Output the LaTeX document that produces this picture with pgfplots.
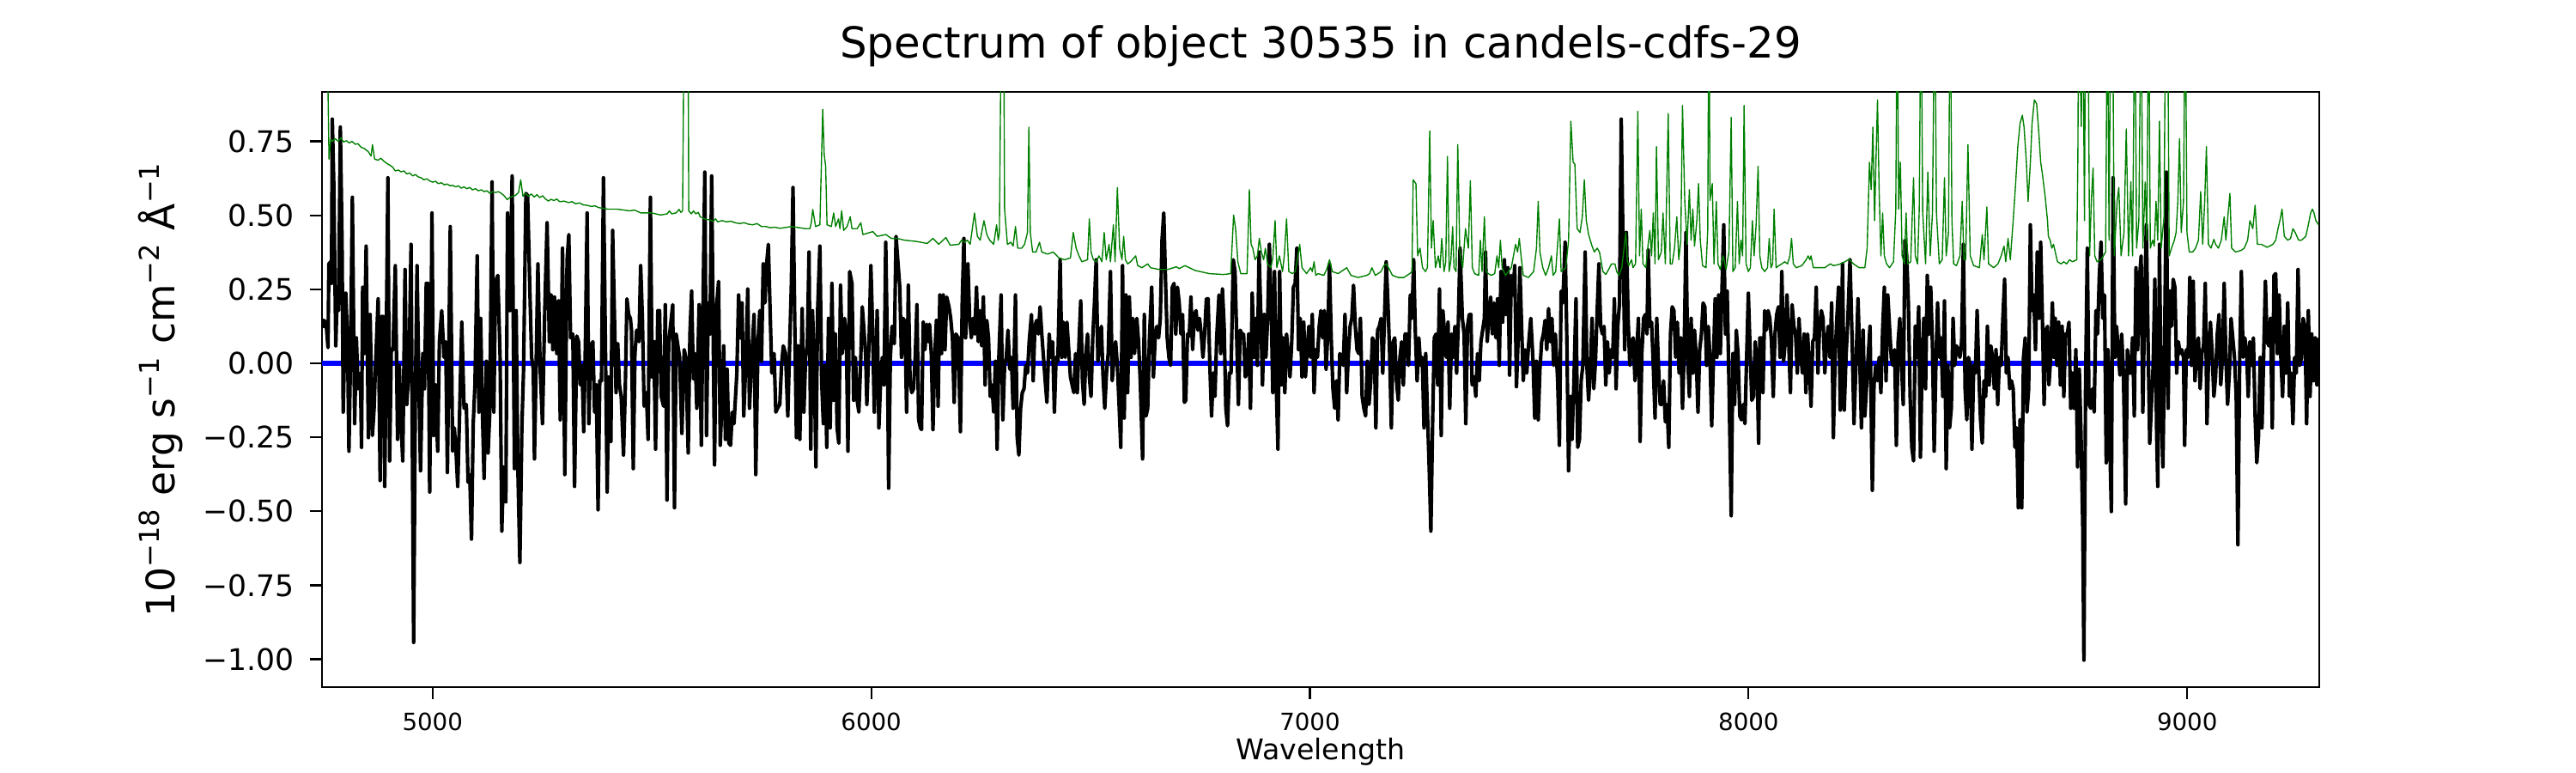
\documentclass[border=0pt]{standalone}
\usepackage{fontspec}
\setmainfont{DejaVu Sans}
\usepackage{pgfplots}
\usepackage{pgfplotstable}
\pgfplotsset{compat=1.18}
\definecolor{mplgreen}{rgb}{0,0.5,0}
\definecolor{mplblue}{rgb}{0,0,1}

\pgfplotstableread{
x y
4749.5 0.120
4752.0 0.145
4757.2 0.139
4761.7 0.053
4763.7 0.336
4767.6 0.343
4769.6 0.270
4771.5 0.825
4774.8 0.613
4779.4 0.059
4782.0 0.204
4785.9 0.178
4789.8 0.798
4793.7 0.416
4796.3 -0.165
4802.2 0.237
4806.1 0.086
4809.4 -0.297
4813.3 0.046
4817.2 0.561
4822.4 -0.204
4826.4 0.086
4830.3 -0.086
4835.5 -0.033
4838.1 -0.284
4840.7 0.257
4844.6 0.033
4848.6 0.396
4853.8 -0.251
4857.7 0.165
4862.9 -0.244
4866.8 -0.152
4869.4 -0.033
4876.0 0.218
4880.5 -0.396
4883.8 0.158
4887.7 0.158
4891.0 -0.416
4894.2 0.020
4898.2 0.627
4902.1 -0.330
4906.0 0.046
4909.9 0.046
4915.1 0.330
4920.3 -0.257
4924.3 -0.007
4928.2 -0.204
4932.1 -0.330
4937.3 0.317
4941.2 -0.139
4946.5 -0.007
4951.0 0.402
4956.9 -0.943
4960.8 -0.112
4964.7 0.330
4968.6 -0.059
4972.6 -0.363
4977.8 0.033
4981.7 -0.086
4985.6 0.270
4989.5 0.270
4993.5 -0.435
4998.7 0.508
5002.6 -0.244
5006.5 -0.073
5011.7 -0.297
5015.6 0.073
5020.9 0.178
5026.1 0.020
5030.0 0.073
5033.9 -0.369
5040.4 0.462
5045.7 -0.297
5049.6 -0.218
5053.5 -0.297
5057.4 -0.416
5061.3 -0.191
5066.6 0.139
5071.8 -0.152
5077.0 -0.139
5080.9 -0.402
5084.8 -0.376
5088.8 -0.594
5092.7 -0.204
5096.6 -0.073
5101.8 0.363
5105.7 -0.165
5109.6 0.152
5113.5 -0.152
5117.5 -0.389
5122.7 0.007
5126.6 -0.303
5130.5 -0.165
5135.7 0.613
5139.7 -0.165
5143.6 0.277
5148.8 0.297
5154.0 0.020
5157.9 -0.567
5161.9 -0.350
5167.1 -0.468
5171.0 0.508
5176.2 0.178
5181.4 0.633
5186.7 -0.356
5190.6 0.178
5194.5 -0.356
5199.1 -0.673
5203.6 -0.218
5207.5 -0.020
5212.8 0.574
5216.7 0.567
5221.9 0.244
5225.8 0.020
5229.7 -0.020
5232.3 -0.323
5240.2 0.336
5245.4 -0.020
5250.6 -0.204
5255.8 0.178
5261.1 0.475
5266.3 0.073
5270.2 0.231
5274.1 0.046
5278.0 0.224
5283.2 0.033
5287.2 0.211
5291.1 -0.191
5296.3 0.389
5301.5 -0.376
5306.7 0.350
5310.7 0.435
5314.6 0.086
5319.8 0.099
5323.7 -0.416
5328.9 0.092
5332.9 0.073
5336.8 -0.073
5340.7 -0.007
5344.6 -0.231
5348.5 0.073
5352.4 0.508
5356.4 -0.204
5360.3 0.059
5365.5 0.073
5369.4 -0.165
5373.3 -0.073
5377.3 -0.495
5381.2 -0.059
5385.1 -0.059
5389.6 0.627
5394.2 0.046
5398.1 -0.435
5402.0 -0.046
5406.6 -0.264
5410.5 0.449
5414.4 0.178
5418.3 -0.099
5422.2 0.066
5426.1 -0.073
5430.1 -0.112
5435.3 -0.310
5439.2 -0.099
5443.1 0.218
5447.0 0.165
5451.0 0.152
5453.5 0.112
5457.5 -0.356
5461.4 0.033
5465.3 0.112
5470.5 0.073
5474.4 0.330
5478.4 0.152
5482.3 -0.145
5487.5 -0.099
5491.4 -0.257
5496.6 0.561
5500.5 -0.046
5504.5 0.073
5508.4 -0.290
5513.6 0.178
5517.5 0.178
5521.4 -0.112
5526.7 -0.145
5530.6 0.198
5534.5 -0.462
5538.4 0.073
5542.3 0.125
5547.5 0.198
5551.5 -0.488
5555.4 0.099
5559.3 0.059
5563.2 0.020
5568.4 -0.237
5573.6 0.046
5577.6 0.020
5582.8 -0.303
5586.7 0.099
5590.6 0.244
5594.5 -0.053
5598.4 0.033
5602.4 -0.152
5607.6 0.198
5612.8 -0.277
5616.7 0.204
5620.6 0.646
5624.6 -0.244
5628.5 0.204
5632.4 0.099
5636.3 0.633
5640.2 0.033
5642.8 -0.343
5646.8 0.178
5652.0 0.277
5655.9 -0.277
5659.8 -0.125
5663.7 0.059
5667.6 -0.257
5671.5 -0.020
5675.5 -0.270
5679.4 -0.277
5683.3 -0.165
5687.2 -0.204
5693.7 -0.033
5697.7 0.231
5701.6 0.086
5705.5 0.204
5709.4 -0.178
5714.6 0.020
5718.5 0.251
5722.5 -0.152
5727.7 0.020
5732.9 0.165
5736.8 -0.376
5742.0 0.073
5746.0 0.178
5749.9 0.007
5753.8 0.336
5757.7 0.204
5761.6 0.336
5765.5 0.402
5769.5 0.178
5773.4 -0.033
5778.6 0.033
5782.5 -0.165
5786.4 -0.152
5791.6 -0.139
5795.6 -0.007
5799.5 0.059
5804.7 0.033
5809.9 -0.178
5813.8 0.046
5817.8 0.257
5821.7 0.594
5825.6 0.152
5829.5 -0.251
5833.4 0.059
5837.3 -0.257
5842.6 0.185
5846.5 -0.165
5850.4 0.020
5854.3 0.059
5858.2 0.376
5862.1 -0.290
5866.1 0.178
5870.0 0.020
5873.9 -0.350
5877.8 0.178
5883.0 0.396
5887.0 -0.059
5890.9 -0.204
5894.8 -0.007
5898.7 -0.284
5902.6 0.152
5906.5 -0.218
5910.4 0.270
5914.4 -0.125
5918.3 0.099
5922.2 -0.218
5926.1 -0.270
5930.0 0.264
5933.9 0.033
5939.2 0.152
5943.1 0.099
5947.0 -0.297
5950.9 0.310
5956.1 0.270
5960.0 -0.125
5964.0 0.020
5967.9 -0.125
5971.8 -0.165
5975.7 -0.007
5979.6 0.191
5983.5 0.112
5987.5 0.020
5990.1 -0.139
5995.3 0.086
5999.2 0.330
6003.1 0.125
6007.0 -0.165
6011.0 0.020
6013.6 0.178
6017.5 -0.218
6021.4 -0.059
6025.3 0.020
6029.2 -0.073
6033.1 0.409
6037.1 0.020
6039.7 -0.422
6043.6 0.020
6047.5 0.125
6052.7 0.066
6056.6 0.429
6065.1 0.257
6069.0 0.020
6072.9 0.152
6076.8 0.139
6080.7 -0.165
6084.6 0.264
6088.6 -0.059
6092.5 -0.099
6096.4 -0.086
6100.3 0.020
6104.2 0.198
6108.1 -0.191
6112.1 -0.218
6114.7 -0.224
6118.6 0.139
6122.5 0.046
6126.4 0.132
6130.3 0.073
6133.0 0.132
6136.9 0.033
6140.8 -0.224
6144.7 0.020
6148.6 0.145
6152.5 -0.145
6156.4 0.231
6160.4 0.033
6164.3 0.231
6168.2 0.046
6172.1 0.224
6177.3 0.191
6181.2 0.152
6185.2 0.086
6189.1 -0.132
6193.0 0.099
6198.2 0.086
6203.4 -0.231
6207.4 0.204
6211.3 0.422
6215.2 0.086
6220.4 0.336
6224.3 0.152
6228.2 0.086
6232.2 0.152
6236.1 0.099
6240.0 0.257
6243.9 0.073
6247.8 0.178
6251.7 0.059
6255.7 0.224
6259.6 -0.073
6263.5 0.145
6267.4 0.086
6271.3 -0.112
6275.2 -0.073
6279.2 -0.165
6283.1 0.007
6287.0 -0.290
6290.9 0.020
6296.1 0.231
6300.0 -0.191
6304.0 -0.007
6307.9 0.020
6311.8 0.112
6315.7 -0.020
6319.6 0.020
6323.5 -0.152
6328.8 0.231
6332.7 -0.251
6336.6 -0.310
6340.5 -0.152
6344.4 -0.099
6348.3 -0.086
6352.3 -0.007
6356.2 -0.033
6360.1 0.073
6365.3 0.165
6369.2 -0.059
6373.1 0.125
6377.1 0.145
6381.0 0.099
6384.9 0.191
6388.8 0.099
6392.7 0.020
6396.6 -0.059
6400.5 -0.132
6405.8 0.099
6409.7 0.020
6413.6 0.073
6417.5 -0.165
6421.4 0.020
6425.4 0.007
6430.6 0.350
6434.5 0.020
6438.4 0.139
6442.3 0.020
6446.2 0.139
6450.2 0.046
6454.1 -0.046
6458.0 -0.073
6461.9 -0.099
6465.8 0.033
6469.7 -0.099
6473.7 0.073
6477.6 0.211
6481.5 -0.059
6485.4 -0.139
6489.3 0.033
6493.2 0.099
6497.2 -0.046
6501.1 -0.112
6505.0 0.086
6508.9 0.204
6512.8 0.350
6516.7 0.007
6520.6 0.073
6524.6 0.125
6528.5 -0.046
6532.4 -0.152
6536.3 -0.033
6540.2 0.033
6545.4 0.310
6549.4 -0.059
6553.3 0.020
6557.2 0.073
6561.1 -0.007
6565.0 -0.139
6568.9 -0.284
6572.9 0.330
6576.8 -0.185
6580.7 0.231
6584.6 -0.099
6588.5 0.224
6592.4 0.020
6596.4 0.152
6600.3 0.033
6605.5 0.152
6609.4 0.073
6613.3 -0.059
6618.6 -0.323
6622.5 0.165
6626.4 -0.178
6630.3 -0.152
6634.2 0.086
6639.4 0.257
6643.4 -0.046
6647.3 0.086
6651.2 0.125
6655.1 0.086
6659.0 0.152
6662.9 0.416
6666.9 0.508
6670.8 0.284
6674.7 0.086
6678.6 0.020
6682.5 -0.007
6686.4 0.257
6690.4 0.270
6694.3 0.099
6698.2 0.257
6702.1 0.204
6706.0 0.099
6709.9 0.165
6713.9 -0.132
6717.1 -0.125
6721.0 0.099
6724.9 0.092
6728.8 0.224
6732.7 0.046
6736.6 0.165
6740.5 0.178
6744.5 0.112
6748.4 0.152
6752.3 0.099
6756.2 0.020
6760.1 0.099
6764.0 0.218
6768.0 0.218
6771.9 -0.007
6775.8 -0.178
6779.7 -0.033
6783.6 -0.112
6787.5 0.086
6792.8 0.231
6796.7 0.033
6800.6 0.251
6804.5 0.125
6808.4 -0.152
6812.3 -0.211
6816.3 -0.033
6820.2 -0.033
6825.4 0.350
6829.3 0.310
6833.2 0.086
6837.1 -0.139
6841.1 0.112
6845.0 0.099
6848.9 0.099
6852.8 -0.046
6856.7 -0.033
6860.6 0.099
6864.6 -0.152
6868.5 0.237
6872.4 0.020
6876.3 0.152
6880.2 -0.007
6884.1 0.376
6888.1 0.165
6892.0 -0.073
6895.9 0.165
6899.8 0.020
6903.7 0.152
6907.6 0.402
6911.6 0.204
6915.5 -0.099
6919.4 0.310
6923.3 -0.073
6927.2 -0.290
6931.1 0.310
6935.1 -0.073
6939.0 0.086
6942.9 -0.099
6946.8 0.099
6950.7 0.033
6954.6 -0.046
6958.6 0.073
6962.5 0.257
6966.4 0.270
6970.3 0.389
6974.2 0.046
6978.1 0.152
6982.0 -0.046
6986.0 0.139
6989.9 -0.046
6993.8 0.046
6997.7 0.125
7001.6 0.020
7005.5 0.165
7009.5 -0.099
7013.4 0.046
7017.3 0.020
7021.2 0.125
7025.1 0.178
7029.0 0.086
7033.0 0.178
7036.9 -0.020
7040.8 0.099
7044.7 0.336
7048.6 0.086
7052.5 -0.086
7056.5 -0.152
7060.4 -0.059
7064.3 -0.191
7068.2 0.033
7072.1 0.020
7076.0 -0.007
7080.0 0.165
7083.9 -0.099
7087.8 0.033
7091.7 0.125
7095.6 0.152
7099.5 0.264
7103.5 0.125
7107.4 0.046
7111.3 0.033
7115.2 0.152
7119.1 -0.112
7123.0 -0.152
7127.0 -0.178
7130.9 0.007
7134.8 -0.139
7138.7 -0.059
7142.6 0.086
7146.5 0.073
7150.4 -0.218
7154.4 0.112
7158.3 0.125
7162.2 0.152
7166.1 -0.033
7170.0 0.152
7173.9 0.343
7177.9 0.204
7181.8 0.033
7185.7 -0.218
7189.6 0.073
7193.5 0.086
7197.4 -0.059
7201.4 -0.125
7205.3 0.020
7209.2 0.073
7213.1 -0.073
7217.0 0.099
7220.9 0.099
7224.9 -0.007
7228.8 0.231
7232.7 0.152
7236.6 0.350
7240.5 0.099
7244.4 -0.059
7248.4 0.086
7252.3 -0.007
7256.2 0.020
7260.1 -0.218
7264.0 0.033
7267.9 -0.165
7271.9 -0.350
7275.8 -0.567
7279.7 -0.204
7283.6 0.086
7287.5 0.099
7291.4 -0.073
7295.4 0.251
7299.3 -0.244
7303.2 0.178
7307.1 0.099
7311.0 0.020
7314.9 0.139
7318.8 -0.152
7322.8 0.099
7326.7 0.020
7330.6 0.125
7334.5 -0.033
7338.4 0.139
7342.3 0.389
7347.6 0.152
7351.5 0.099
7355.4 -0.204
7359.3 0.125
7363.2 0.165
7367.1 0.165
7369.7 -0.073
7374.3 -0.046
7378.2 -0.112
7382.1 0.033
7386.0 -0.059
7389.9 0.073
7393.8 0.112
7397.8 0.152
7400.4 0.376
7404.3 0.073
7408.2 0.165
7412.1 0.224
7416.0 0.099
7419.9 0.204
7423.9 0.086
7427.8 0.218
7431.7 -0.007
7435.6 0.310
7439.5 0.139
7443.4 0.350
7447.4 0.165
7451.3 0.323
7455.2 -0.040
7459.1 0.297
7463.0 0.231
7466.9 0.330
7470.9 -0.079
7474.8 0.086
7478.7 0.323
7482.6 0.125
7486.5 -0.059
7490.4 0.046
7494.4 -0.033
7498.3 0.059
7503.5 0.152
7508.7 0.007
7512.6 -0.185
7516.5 0.007
7520.5 -0.191
7524.4 -0.020
7528.3 0.073
7532.2 0.099
7536.1 0.145
7540.0 0.046
7544.0 0.185
7547.9 0.073
7551.8 0.152
7555.7 -0.007
7559.6 0.099
7564.8 -0.059
7568.8 -0.277
7572.7 0.244
7576.6 0.204
7581.8 0.409
7585.7 0.086
7589.7 -0.363
7593.6 -0.112
7597.5 -0.257
7601.4 -0.086
7606.6 0.218
7610.5 -0.284
7614.5 -0.257
7618.4 -0.059
7622.3 -0.007
7627.5 0.376
7631.4 -0.007
7635.3 -0.125
7639.3 -0.020
7643.2 0.152
7647.1 -0.086
7651.0 0.007
7654.9 0.178
7658.8 0.336
7662.8 0.125
7666.7 0.099
7670.6 0.125
7674.5 -0.073
7678.4 0.073
7682.3 -0.033
7686.3 0.046
7690.2 0.020
7694.1 0.218
7698.0 -0.086
7701.9 0.125
7705.8 0.204
7709.7 0.825
7713.7 0.416
7717.6 0.046
7721.5 0.442
7725.4 0.152
7729.3 -0.007
7733.2 0.073
7737.2 0.086
7741.1 -0.059
7745.0 0.033
7748.9 0.152
7752.8 -0.264
7756.7 0.033
7760.7 0.152
7764.6 0.165
7768.5 0.099
7771.1 0.383
7775.0 0.125
7778.9 0.139
7782.8 -0.007
7786.8 -0.185
7790.7 0.152
7794.6 -0.007
7798.5 -0.139
7802.4 -0.139
7806.3 -0.059
7810.3 -0.198
7814.2 -0.139
7818.1 -0.284
7822.0 0.099
7825.9 0.191
7829.8 0.178
7833.8 0.020
7837.7 0.139
7841.6 -0.033
7845.5 0.086
7849.4 -0.152
7853.3 0.046
7857.3 0.442
7861.2 0.020
7865.1 -0.112
7869.0 0.152
7872.9 -0.033
7876.8 0.112
7880.7 0.020
7884.7 -0.165
7888.6 0.046
7892.5 0.099
7896.4 0.204
7900.3 0.191
7904.2 -0.007
7908.2 0.125
7912.1 0.020
7916.0 -0.211
7919.9 0.007
7923.8 0.218
7927.7 0.020
7931.7 0.231
7935.6 0.033
7939.5 0.257
7943.4 0.468
7947.3 0.099
7951.2 0.244
7955.2 -0.059
7960.4 -0.515
7964.3 0.033
7968.2 -0.139
7972.1 0.112
7976.0 0.033
7980.0 -0.178
7983.9 -0.191
7987.8 -0.139
7991.7 -0.204
7995.6 0.020
7999.5 0.237
8003.5 0.046
8007.4 -0.125
8011.3 -0.112
8015.2 0.073
8019.1 0.007
8023.0 -0.270
8025.6 0.086
8028.9 0.086
8032.8 -0.099
8036.7 0.178
8040.6 0.112
8044.5 0.178
8048.4 0.152
8052.3 0.073
8056.3 -0.112
8060.2 0.099
8064.1 0.165
8068.0 0.191
8071.9 0.020
8075.8 0.310
8079.8 0.007
8083.7 0.073
8087.6 0.231
8091.5 0.073
8095.4 -0.099
8099.3 0.198
8103.3 0.125
8107.2 0.099
8111.1 -0.033
8115.0 0.152
8118.9 0.033
8122.8 -0.033
8126.8 0.099
8130.7 -0.099
8134.6 0.099
8138.5 -0.007
8142.4 -0.145
8146.3 0.073
8150.3 0.086
8154.2 0.257
8158.1 -0.033
8162.0 0.125
8165.9 0.178
8169.8 0.152
8173.8 -0.033
8177.7 0.073
8181.6 0.125
8185.5 0.020
8189.4 0.204
8193.3 -0.251
8197.3 0.020
8201.2 0.152
8205.1 0.257
8209.0 -0.158
8214.2 0.336
8218.1 -0.158
8222.1 0.020
8226.0 0.139
8231.2 0.350
8236.4 0.059
8240.3 -0.204
8245.6 0.033
8249.5 0.218
8253.4 0.020
8257.3 -0.218
8261.2 0.112
8265.1 -0.178
8269.1 -0.073
8273.0 0.033
8276.9 0.125
8282.1 -0.429
8286.0 -0.073
8289.9 -0.007
8293.9 -0.059
8297.8 0.020
8301.7 -0.099
8305.6 0.112
8309.5 0.257
8313.4 -0.059
8317.4 0.231
8321.3 0.125
8325.2 0.020
8329.1 -0.007
8333.0 0.046
8336.9 -0.277
8340.9 0.073
8344.8 0.152
8348.7 -0.007
8352.6 -0.139
8356.5 0.416
8360.4 0.363
8364.3 0.204
8368.3 -0.112
8372.2 -0.284
8376.1 -0.330
8380.0 0.125
8383.9 0.020
8387.8 0.191
8391.8 -0.317
8395.7 0.020
8399.6 0.152
8403.5 -0.086
8407.4 0.297
8411.3 0.099
8415.3 0.257
8419.2 0.059
8423.1 -0.297
8427.0 -0.007
8430.9 0.204
8434.8 0.020
8438.8 0.086
8442.7 -0.112
8446.6 0.211
8450.5 -0.356
8454.4 -0.007
8458.3 -0.218
8462.2 -0.152
8466.2 0.152
8470.1 -0.007
8474.0 0.059
8477.9 0.046
8481.8 0.020
8485.7 0.073
8489.7 0.402
8493.6 -0.086
8497.5 -0.191
8501.4 0.020
8505.3 -0.007
8509.2 -0.290
8513.2 -0.007
8517.1 -0.033
8521.0 0.178
8524.9 -0.033
8528.8 -0.191
8532.7 -0.270
8536.7 -0.059
8540.6 -0.112
8544.5 0.125
8548.4 -0.073
8552.3 0.059
8556.2 0.020
8560.2 -0.086
8564.1 0.046
8568.0 -0.139
8571.9 0.020
8575.8 -0.007
8579.7 0.152
8583.7 0.284
8587.6 -0.033
8591.5 0.020
8595.4 -0.086
8599.3 -0.059
8603.2 -0.086
8607.2 -0.284
8611.1 -0.218
8615.0 -0.488
8618.9 -0.191
8622.8 -0.488
8626.7 0.020
8630.6 0.086
8634.6 -0.165
8638.5 -0.086
8642.4 0.468
8646.3 0.178
8650.2 0.231
8654.1 0.046
8658.1 0.376
8662.0 0.152
8665.9 0.409
8669.8 0.152
8673.7 -0.139
8677.6 0.112
8681.5 0.125
8684.7 -0.073
8688.7 0.020
8692.6 0.204
8696.5 0.020
8699.1 0.152
8703.0 -0.007
8706.9 0.139
8710.9 -0.073
8714.8 0.125
8718.7 -0.112
8722.6 0.099
8726.5 0.099
8730.4 0.139
8734.4 -0.152
8738.3 -0.033
8742.2 -0.152
8746.1 0.046
8750.0 -0.350
8753.9 -0.020
8757.9 -0.244
8761.8 -0.547
8764.4 -1.003
8768.3 -0.059
8772.2 0.389
8776.1 -0.139
8780.0 -0.152
8784.0 -0.086
8787.9 -0.165
8791.8 0.178
8795.7 0.099
8799.6 0.297
8803.5 0.409
8807.5 0.152
8811.4 0.231
8815.3 -0.336
8819.2 0.046
8823.1 -0.244
8827.0 -0.501
8831.0 0.627
8834.9 0.020
8838.8 0.125
8842.7 0.046
8846.6 -0.040
8850.5 0.099
8854.5 -0.033
8859.7 -0.475
8863.6 0.046
8867.5 -0.033
8871.4 -0.033
8875.3 0.086
8879.3 -0.178
8883.2 0.323
8887.1 0.046
8891.0 0.284
8894.9 0.363
8898.8 -0.165
8902.8 0.191
8906.7 0.468
8910.6 0.086
8914.5 -0.270
8918.4 -0.139
8922.3 -0.007
8926.2 0.284
8930.2 -0.231
8932.8 -0.416
8936.7 0.402
8940.6 -0.139
8944.5 -0.350
8948.4 0.073
8952.4 0.646
8956.3 -0.152
8960.2 0.244
8964.1 0.125
8968.0 0.284
8971.9 0.257
8975.9 -0.033
8979.8 0.073
8983.7 0.033
8987.6 0.046
8991.5 0.020
8994.1 -0.277
8998.0 0.046
9002.0 0.020
9005.9 0.290
9009.8 -0.007
9013.7 0.277
9017.6 -0.059
9021.5 0.046
9025.5 0.086
9029.4 -0.086
9033.3 0.033
9037.2 0.059
9041.1 0.270
9045.0 -0.204
9049.0 0.046
9052.9 0.139
9056.8 0.033
9060.7 -0.112
9064.6 -0.046
9068.5 0.099
9072.5 0.165
9076.4 -0.073
9080.3 0.020
9084.2 0.270
9088.1 0.020
9092.0 -0.139
9096.0 -0.033
9099.9 0.152
9103.8 0.086
9107.7 0.020
9111.6 -0.112
9115.5 -0.613
9119.4 -0.007
9123.4 0.310
9127.3 0.020
9131.2 0.086
9135.1 0.046
9139.0 -0.112
9142.9 0.073
9146.9 -0.007
9150.8 0.086
9154.7 -0.178
9158.6 -0.336
9162.5 -0.244
9166.4 0.020
9170.4 -0.218
9174.3 0.033
9178.2 0.277
9182.1 0.073
9186.0 0.059
9189.9 0.152
9193.9 -0.218
9197.8 0.297
9201.7 0.303
9205.6 0.033
9209.5 0.231
9213.4 0.020
9217.4 -0.112
9221.3 0.125
9225.2 -0.033
9229.1 0.204
9233.0 -0.112
9236.9 -0.033
9240.9 -0.204
9244.8 0.020
9248.7 -0.033
9252.6 0.317
9256.5 -0.007
9260.4 0.020
9264.3 0.152
9268.3 0.125
9272.2 -0.204
9276.1 0.178
9280.0 -0.112
9283.9 0.099
9287.8 -0.059
9291.8 0.086
9295.7 -0.073
9299.6 0.086
}\fluxdata

\pgfplotstableread{
x y
4749.5 1.300
4758.0 1.300
4764.0 0.690
4768.0 0.757
4772.0 0.750
4778.0 0.759
4785.0 0.750
4791.0 0.762
4797.0 0.748
4804.0 0.752
4810.0 0.744
4816.0 0.750
4824.0 0.740
4830.0 0.742
4837.0 0.730
4844.0 0.726
4853.0 0.716
4860.0 0.700
4863.0 0.739
4868.0 0.690
4876.0 0.686
4882.0 0.693
4889.0 0.683
4895.0 0.676
4902.0 0.670
4909.0 0.663
4915.0 0.650
4922.0 0.653
4928.0 0.647
4935.0 0.650
4941.0 0.640
4948.0 0.643
4955.0 0.633
4961.0 0.638
4967.0 0.630
4974.0 0.627
4980.0 0.620
4987.0 0.623
4994.0 0.616
5000.0 0.612
5007.0 0.615
5013.0 0.607
5020.0 0.610
5027.0 0.603
5033.0 0.606
5040.0 0.600
5046.0 0.601
5053.0 0.596
5059.0 0.600
5065.0 0.592
5072.0 0.596
5078.0 0.590
5085.0 0.594
5091.0 0.586
5098.0 0.590
5104.0 0.583
5111.0 0.586
5118.0 0.580
5124.0 0.583
5131.0 0.574
5137.0 0.580
5144.0 0.577
5150.0 0.580
5157.0 0.574
5164.0 0.565
5170.0 0.553
5176.0 0.560
5183.0 0.565
5189.0 0.567
5196.0 0.577
5201.0 0.620
5206.0 0.565
5212.0 0.574
5219.0 0.565
5225.0 0.572
5232.0 0.562
5238.0 0.570
5244.0 0.560
5251.0 0.566
5257.0 0.556
5264.0 0.548
5270.0 0.554
5277.0 0.550
5283.0 0.555
5290.0 0.546
5300.0 0.548
5310.0 0.543
5318.0 0.546
5326.0 0.539
5335.0 0.542
5344.0 0.535
5352.0 0.534
5362.0 0.530
5370.0 0.532
5379.0 0.526
5388.0 0.524
5398.0 0.521
5420.0 0.521
5450.0 0.515
5460.0 0.518
5475.0 0.508
5500.0 0.508
5520.0 0.501
5535.0 0.505
5540.0 0.515
5545.0 0.505
5555.0 0.508
5562.0 0.520
5566.0 0.510
5570.0 0.515
5572.0 0.900
5574.0 1.400
5582.0 1.400
5584.0 0.515
5590.0 0.505
5595.0 0.515
5600.0 0.505
5606.0 0.510
5610.0 0.495
5620.0 0.488
5630.0 0.485
5640.0 0.480
5645.0 0.488
5650.0 0.478
5660.0 0.482
5670.0 0.478
5680.0 0.480
5690.0 0.475
5700.0 0.472
5710.0 0.475
5720.0 0.470
5730.0 0.468
5740.0 0.472
5750.0 0.462
5760.0 0.462
5770.0 0.458
5780.0 0.460
5791.6 0.456
5817.8 0.462
5850.4 0.455
5860.2 0.455
5863.4 0.475
5866.7 0.520
5873.2 0.462
5883.0 0.468
5889.5 0.858
5892.8 0.706
5896.1 0.666
5899.3 0.468
5909.1 0.462
5914.4 0.508
5918.9 0.462
5925.4 0.488
5928.7 0.455
5932.6 0.515
5937.2 0.449
5945.0 0.462
5952.2 0.495
5956.1 0.455
5967.9 0.455
5976.3 0.475
5981.0 0.435
6003.8 0.445
6013.6 0.429
6033.1 0.435
6046.2 0.422
6059.3 0.422
6075.5 0.416
6101.6 0.412
6127.7 0.405
6140.8 0.422
6153.8 0.402
6170.2 0.425
6180.0 0.399
6199.5 0.402
6206.1 0.416
6212.6 0.409
6219.1 0.416
6225.6 0.402
6235.4 0.508
6242.0 0.429
6248.5 0.416
6257.0 0.482
6263.5 0.435
6270.0 0.416
6274.6 0.409
6279.2 0.402
6285.7 0.468
6289.6 0.416
6292.2 0.442
6294.8 0.900
6296.8 1.400
6301.3 1.400
6304.0 0.521
6310.5 0.402
6318.3 0.409
6323.5 0.396
6328.8 0.462
6334.0 0.389
6343.1 0.389
6349.6 0.402
6356.2 0.442
6359.4 0.798
6362.7 0.442
6367.9 0.376
6375.8 0.376
6383.6 0.409
6388.8 0.376
6401.9 0.369
6414.9 0.376
6428.0 0.356
6441.0 0.350
6454.1 0.356
6460.6 0.442
6467.1 0.389
6473.7 0.363
6480.2 0.343
6493.2 0.350
6497.2 0.488
6501.1 0.376
6506.3 0.350
6512.8 0.343
6519.3 0.363
6525.9 0.343
6531.1 0.442
6535.7 0.350
6542.2 0.402
6545.4 0.343
6552.0 0.468
6555.9 0.343
6561.1 0.594
6566.3 0.389
6571.6 0.350
6575.5 0.429
6579.4 0.350
6584.6 0.336
6591.2 0.343
6602.9 0.363
6607.5 0.330
6617.2 0.323
6630.3 0.336
6636.8 0.323
6656.4 0.317
6676.0 0.317
6695.6 0.326
6702.1 0.320
6715.2 0.330
6737.9 0.314
6770.6 0.303
6803.2 0.300
6819.5 0.303
6826.1 0.501
6830.6 0.455
6835.8 0.343
6842.4 0.303
6856.7 0.303
6862.0 0.587
6865.9 0.402
6869.8 0.389
6875.0 0.350
6880.2 0.363
6884.8 0.422
6889.4 0.376
6894.6 0.350
6898.5 0.389
6903.7 0.336
6910.9 0.323
6915.5 0.356
6920.7 0.482
6924.6 0.323
6930.5 0.363
6937.7 0.310
6941.6 0.363
6946.8 0.488
6952.0 0.310
6959.9 0.303
6966.4 0.310
6972.9 0.363
6976.8 0.402
6982.0 0.323
6992.5 0.303
7001.6 0.323
7005.5 0.310
7009.5 0.343
7013.4 0.297
7018.6 0.303
7031.7 0.297
7038.2 0.317
7044.7 0.350
7051.2 0.310
7064.3 0.303
7083.9 0.323
7093.7 0.297
7110.0 0.290
7129.6 0.297
7136.1 0.303
7141.3 0.323
7149.1 0.297
7162.2 0.310
7168.7 0.330
7173.9 0.336
7179.2 0.323
7188.3 0.297
7201.4 0.290
7214.4 0.290
7227.5 0.303
7232.7 0.310
7235.3 0.620
7241.8 0.607
7245.7 0.363
7251.0 0.389
7256.8 0.323
7263.4 0.310
7267.9 0.323
7273.2 0.785
7277.1 0.389
7281.0 0.482
7286.2 0.323
7292.7 0.363
7296.7 0.323
7300.6 0.422
7305.8 0.310
7309.7 0.343
7313.6 0.699
7317.5 0.310
7321.5 0.350
7325.4 0.462
7328.6 0.323
7333.2 0.310
7337.1 0.739
7341.7 0.376
7348.2 0.323
7354.7 0.455
7361.3 0.389
7365.8 0.617
7370.3 0.323
7375.6 0.303
7384.7 0.297
7388.6 0.416
7392.5 0.310
7397.8 0.495
7401.7 0.310
7406.9 0.303
7413.4 0.297
7421.3 0.303
7426.5 0.363
7430.4 0.323
7434.3 0.416
7438.2 0.323
7446.1 0.297
7459.1 0.323
7468.9 0.402
7473.5 0.376
7477.4 0.422
7481.3 0.363
7486.5 0.297
7498.3 0.290
7510.0 0.310
7516.5 0.389
7520.5 0.547
7524.4 0.376
7530.9 0.323
7537.4 0.297
7544.0 0.323
7550.5 0.363
7554.4 0.297
7560.3 0.310
7568.8 0.488
7572.7 0.310
7583.1 0.323
7589.7 0.416
7594.9 0.818
7600.1 0.679
7604.0 0.673
7609.2 0.455
7615.8 0.442
7621.0 0.495
7625.6 0.620
7630.1 0.482
7635.3 0.435
7643.2 0.396
7648.4 0.376
7654.9 0.389
7660.1 0.376
7668.0 0.310
7674.5 0.300
7681.0 0.317
7687.6 0.336
7695.4 0.336
7699.3 0.310
7704.5 0.297
7711.0 0.323
7720.2 0.442
7723.4 0.350
7726.7 0.330
7733.2 0.350
7736.5 0.323
7742.4 0.336
7747.6 0.851
7751.5 0.363
7755.4 0.521
7759.3 0.336
7765.9 0.323
7771.1 0.402
7775.0 0.449
7778.9 0.363
7782.8 0.508
7786.8 0.336
7790.0 0.732
7794.6 0.350
7801.1 0.376
7805.0 0.508
7810.3 0.336
7816.8 0.844
7821.4 0.336
7825.9 0.336
7831.2 0.389
7836.4 0.495
7840.9 0.350
7845.5 0.416
7849.4 0.871
7854.6 0.547
7859.9 0.402
7865.1 0.587
7869.0 0.416
7872.9 0.521
7876.8 0.396
7882.1 0.482
7886.0 0.607
7889.9 0.416
7895.1 0.330
7903.0 0.323
7906.9 0.450
7909.5 1.300
7912.1 0.550
7917.3 0.607
7921.2 0.336
7926.4 0.547
7930.4 0.336
7935.6 0.317
7942.1 0.363
7948.6 0.317
7955.2 0.376
7960.4 0.831
7964.3 0.310
7969.5 0.323
7974.7 0.547
7978.7 0.336
7982.6 0.416
7986.5 0.363
7989.8 0.871
7994.3 0.336
7999.5 0.310
8004.1 0.323
8008.7 0.482
8012.6 0.363
8017.2 0.468
8021.7 0.666
8025.7 0.363
8030.2 0.323
8036.7 0.310
8043.2 0.323
8047.1 0.422
8051.0 0.323
8054.9 0.336
8058.2 0.521
8062.8 0.323
8069.3 0.330
8075.8 0.336
8082.4 0.343
8088.9 0.336
8094.1 0.363
8098.0 0.422
8102.0 0.336
8108.5 0.323
8121.5 0.330
8131.3 0.350
8135.9 0.363
8139.8 0.350
8142.4 0.363
8147.6 0.323
8160.7 0.323
8173.8 0.323
8180.3 0.330
8186.8 0.336
8193.3 0.330
8206.4 0.334
8219.4 0.343
8229.2 0.352
8239.0 0.336
8252.1 0.323
8265.1 0.323
8270.3 0.389
8275.6 0.679
8279.5 0.587
8283.4 0.798
8287.3 0.482
8289.9 0.653
8293.9 0.890
8297.8 0.574
8301.7 0.363
8305.6 0.508
8309.5 0.363
8314.7 0.336
8321.3 0.323
8330.4 0.343
8335.6 0.521
8338.9 1.300
8342.1 0.521
8346.1 0.679
8350.0 0.363
8355.2 0.336
8359.1 0.508
8363.0 0.336
8369.6 0.343
8376.1 0.627
8380.0 0.363
8385.2 0.336
8389.1 0.521
8393.1 1.300
8397.0 0.508
8403.5 0.336
8408.7 0.646
8414.0 0.363
8419.2 0.508
8424.4 1.300
8428.3 0.508
8434.8 0.336
8441.4 0.350
8446.6 0.627
8450.5 0.363
8455.7 0.442
8459.6 1.300
8463.6 0.482
8467.5 0.336
8474.0 0.330
8481.8 0.363
8487.0 0.547
8491.0 0.350
8494.9 0.350
8500.1 0.739
8505.3 0.363
8513.2 0.330
8526.2 0.323
8532.7 0.435
8536.7 0.350
8543.2 0.528
8547.1 0.336
8558.9 0.323
8568.6 0.336
8575.8 0.363
8582.4 0.396
8586.3 0.343
8591.5 0.422
8596.7 0.350
8603.2 0.482
8608.5 0.600
8613.7 0.732
8618.9 0.811
8624.1 0.838
8628.0 0.798
8633.3 0.679
8637.2 0.547
8642.4 0.679
8646.3 0.811
8651.5 0.890
8656.7 0.877
8662.0 0.772
8665.9 0.679
8669.8 0.640
8676.3 0.561
8681.5 0.482
8683.4 0.429
8687.4 0.416
8691.3 0.389
8695.2 0.402
8699.1 0.376
8704.3 0.343
8712.2 0.336
8718.7 0.343
8725.2 0.336
8731.7 0.350
8738.3 0.343
8748.1 0.350
8750.7 0.700
8752.6 1.300
8755.9 1.000
8758.5 0.800
8761.8 1.300
8765.7 0.482
8768.3 1.300
8773.5 1.300
8777.4 0.363
8781.3 0.547
8785.3 0.660
8789.2 0.363
8794.4 0.343
8803.5 0.350
8814.0 0.376
8817.9 1.300
8821.8 0.416
8825.7 1.300
8829.6 1.300
8833.6 0.363
8840.1 0.547
8844.0 0.594
8849.2 0.363
8855.8 0.442
8861.0 0.792
8866.2 0.363
8871.4 0.613
8875.3 0.363
8880.6 1.300
8884.5 0.389
8889.7 0.482
8894.9 1.300
8898.8 0.389
8904.1 0.613
8908.0 0.416
8911.9 1.300
8915.8 0.389
8921.0 0.416
8924.9 0.396
8928.9 0.547
8932.8 0.416
8936.7 0.818
8940.6 0.389
8947.1 0.495
8951.0 1.300
8955.0 1.300
8958.9 0.363
8964.1 0.389
8970.6 0.416
8974.6 0.442
8978.5 0.547
8982.4 0.759
8986.3 0.442
8991.5 0.547
8995.4 1.300
8999.4 0.442
9004.6 0.376
9012.4 0.376
9018.9 0.389
9025.5 0.416
9030.7 0.580
9035.2 0.402
9039.8 0.547
9043.7 0.732
9048.3 0.402
9054.2 0.389
9060.7 0.419
9064.6 0.402
9071.1 0.389
9077.7 0.416
9084.2 0.495
9088.1 0.416
9093.3 0.508
9097.3 0.574
9101.2 0.389
9110.3 0.376
9123.4 0.382
9129.9 0.389
9137.7 0.416
9142.9 0.482
9149.5 0.455
9154.7 0.534
9159.9 0.402
9169.1 0.402
9182.1 0.392
9195.2 0.402
9201.7 0.416
9206.9 0.455
9212.1 0.488
9216.1 0.521
9221.3 0.429
9229.1 0.416
9235.6 0.422
9240.9 0.455
9246.1 0.442
9253.9 0.416
9260.4 0.416
9270.2 0.429
9276.1 0.468
9281.3 0.508
9285.2 0.521
9289.1 0.508
9293.1 0.482
9299.6 0.468
}\skydata

\pgfplotstableread{
x y
4740 0
9310 0
}\zerodata

\begin{document}
\begin{tikzpicture}
\path[use as bounding box, fill=white] (0,0) rectangle (15in,4.5in);
\begin{axis}[
  at={(1.875in,0.5in)}, anchor=south west,
  width=11.63in, height=3.465in, scale only axis,
  xmin=4748, xmax=9301, ymin=-1.094, ymax=0.917,
  axis line style={line width=0.8pt, black},
  tick pos=left, tick align=outside,
  major tick length=5.1pt,
  every tick/.style={line width=0.8pt, black},
  xtick={5000,6000,7000,8000,9000},
  xticklabels={5000,6000,7000,8000,9000},
  ytick={-1,-0.75,-0.5,-0.25,0,0.25,0.5,0.75},
  yticklabels={−1.00,−0.75,−0.50,−0.25,0.00,0.25,0.50,0.75},
  xticklabel style={font=\fontsize{10}{12}\selectfont, inner sep=0pt, anchor=north, yshift=-5.4pt},
  yticklabel style={font=\fontsize{12.5}{15}\selectfont, inner sep=0pt, anchor=east, xshift=-6.6pt},
  title={Spectrum of object 30535 in candels-cdfs-29},
  title style={font=\fontsize{18}{21}\selectfont, at={(axis description cs:0.5,1)}, anchor=base, yshift=8.3pt, inner sep=0pt},
  xlabel={Wavelength},
  xlabel style={font=\fontsize{12}{14}\selectfont, at={(axis description cs:0.5,0)}, anchor=base, yshift=-30.4pt, inner sep=0pt},
  ylabel={10\textsuperscript{−18} erg s\textsuperscript{−1} cm\textsuperscript{−2} Å\textsuperscript{−1}},
  ylabel style={font=\fontsize{16.5}{19}\selectfont, at={(axis description cs:-0.0738,0.5)}, anchor=base, inner sep=0pt},
  clip=true,
]
\addplot[mplblue, line width=2.2pt, line join=round] table {\zerodata};
\addplot[black, line width=1.5pt, line join=round] table {\fluxdata};
\addplot[mplgreen, line width=0.5pt, line join=round] table {\skydata};
\end{axis}
\end{tikzpicture}
\end{document}
